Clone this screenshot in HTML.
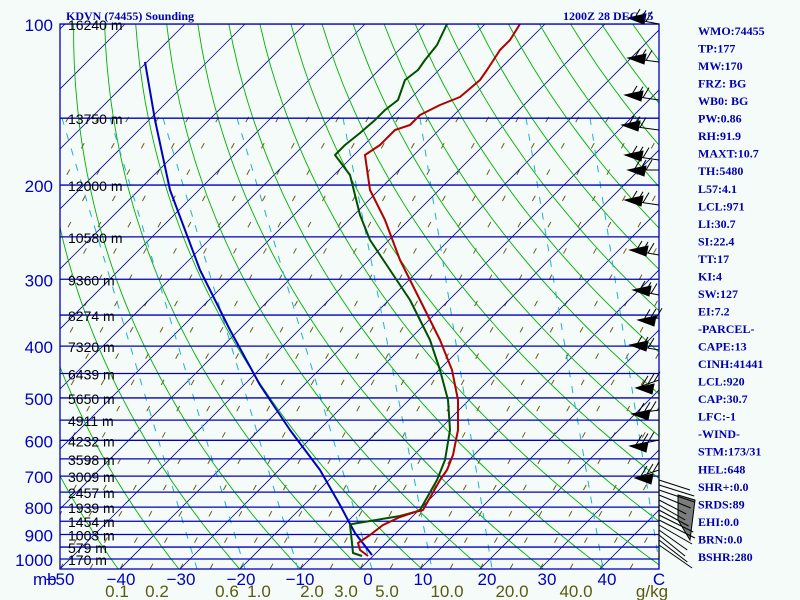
<!DOCTYPE html>
<html><head><meta charset="utf-8"><style>
body{margin:0;background:#f5fbf8;}
svg{display:block}
</style></head><body>
<svg id="s" width="800" height="600" xmlns="http://www.w3.org/2000/svg">
<rect width="800" height="600" fill="#f5fbf8"/>
<defs><clipPath id="c"><rect x="60" y="24" width="599" height="545"/></clipPath></defs>
<g id="grid" clip-path="url(#c)"></g>
<g id="prof" clip-path="url(#c)" fill="none" stroke-linejoin="round"></g>
<rect x="60" y="24" width="599" height="545" fill="none" stroke="#0000c0" stroke-width="1.3"/>
<g id="lab"></g>
<g id="wind" stroke="#000" stroke-width="1" fill="none"></g>
<g font-family="Liberation Serif, serif" font-weight="bold" font-size="12" fill="#0000b0">
<text x="66" y="20">KDVN (74455) Sounding</text>
<text x="563" y="20">1200Z 28 DEC 15</text>
</g>
<g id="side" font-family="Liberation Serif, serif" font-weight="bold" font-size="12" fill="#0000b0"></g>
</svg>
<script>
var NS="http://www.w3.org/2000/svg";
function el(p,t,a,txt){var e=document.createElementNS(NS,t);for(var k in a)e.setAttribute(k,a[k]);if(txt!==undefined)e.textContent=txt;p.appendChild(e);return e;}
function Y(p){return 24+535*Math.log10(p/100);}
function X(T,y){return 360+6*T+(569-y);}
var g=document.getElementById('grid'),lab=document.getElementById('lab');
// brown slashes
for(var x0=-300;x0<=700;x0+=30){el(g,'line',{x1:x0,y1:569,x2:x0+0.55*460,y2:109,stroke:'#6b5b1f','stroke-width':1,'stroke-dasharray':'6 24','stroke-dashoffset':(x0*7)%30});}
// isotherms
for(var T=-160;T<=60;T+=10){el(g,'line',{x1:X(T,569),y1:569,x2:X(T,24),y2:24,stroke:'#0000b0','stroke-width':0.8});}
// dry adiabats
for(var th=190;th<=540;th+=10){var pts=[];for(var p=80;p<=1060;p+=10){var y=Y(p),t=th*Math.pow(p/1000,0.286)-273.15;pts.push(X(t,y).toFixed(1)+','+y.toFixed(1));}
el(g,'polyline',{points:pts.join(' '),fill:'none',stroke:'#00b000','stroke-width':0.9});}
// cyan dashed lines
[[62,197],[110,245],[163,298],[237,372],[343,432],[420,492],[526,603],[590,660]].forEach(function(a){
 el(g,'line',{x1:a[0],y1:118,x2:a[1],y2:569,stroke:'#20b0d0','stroke-width':1,'stroke-dasharray':'7 9'});});
// isobars
var hts={100:'16240',150:'13750',200:'12000',250:'10580',300:'9360',350:'8274',400:'7320',450:'6439',500:'5650',550:'4911',600:'4232',650:'3598',700:'3009',750:'2457',800:'1939',850:'1454',900:'1003',950:'579',1000:'170'};
for(var p in hts){var y=Y(+p);el(g,'line',{x1:60,y1:y,x2:659,y2:y,stroke:'#0000c0','stroke-width':1.3});
 el(lab,'text',{x:68,y:y+6,'font-family':'Liberation Sans, sans-serif','font-size':14,fill:'#000'},hts[p]+' m');
 if(p%100==0)el(lab,'text',{x:53,y:y+7,'text-anchor':'end','font-family':'Liberation Sans, sans-serif','font-size':17,fill:'#0000c0'},p);}
el(lab,'text',{x:33,y:585,'font-family':'Liberation Sans, sans-serif','font-size':17,fill:'#0000c0'},'mb');
[[-50,60],[-40,121],[-30,181],[-20,241],[-10,300],[0,368],[10,423],[20,487],[30,547],[40,607]].forEach(function(a){
 el(lab,'text',{x:a[1],y:585,'text-anchor':'middle','font-family':'Liberation Sans, sans-serif','font-size':17,fill:'#0000c0'},a[0]<0?'\u2212'+(-a[0]):a[0]);});
el(lab,'text',{x:659,y:585,'text-anchor':'middle','font-family':'Liberation Sans, sans-serif','font-size':17,fill:'#0000c0'},'C');
[['0.1',117],['0.2',157],['0.6',227],['1.0',259],['2.0',312],['3.0',346],['5.0',387],['10.0',447],['20.0',512],['40.0',576],['g/kg',652]].forEach(function(a){
 el(lab,'text',{x:a[1],y:597,'text-anchor':'middle','font-family':'Liberation Sans, sans-serif','font-size':17,fill:'#5a5a10'},a[0]);});
var pr=document.getElementById('prof');
el(pr,'polyline',{points:'145,62 155,120 170,190 200,270 230,330 260,385 290,430 320,470 340,505 349,522 355,533 372,555',stroke:'#0000c0','stroke-width':2});
el(pr,'polyline',{points:'447,24 437,45 425,60 418,70 405,80 398,100 385,110 375,120 360,133 345,145 335,155 350,175 355,195 360,215 370,240 390,270 410,300 425,330 430,340 440,370 448,400 450,430 445,460 437,480 420,510 415,512 400,516 352,524 350,525 352,543 353,553 362,556',stroke:'#005000','stroke-width':2});
el(pr,'polyline',{points:'520,24 510,40 500,50 487,70 480,80 460,97 440,105 420,115 410,125 395,130 380,145 365,155 370,190 385,220 400,260 420,300 430,320 440,340 452,370 458,400 458,430 453,455 447,470 440,480 423,510 415,512 400,517 383,525 370,535 358,543 360,550 368,556',stroke:'#b00000','stroke-width':2});
// wind barbs
var w=document.getElementById('wind');
el(w,'line',{x1:659,y1:380,x2:659,y2:560});
var barbs=[[24,628,18],[62,628,58],[100,625,95],[130,622,125],[160,625,155],[170,628,170],[205,625,200],[255,630,250],[295,633,290],[318,638,320],[350,630,345],[380,636,388],[410,632,414],[440,630,446],[470,635,478]];
barbs.forEach(function(b){var y=b[0];el(w,'line',{x1:659,y1:y,x2:b[1],y2:b[2]});
 el(w,'polygon',{points:b[1]+','+b[2]+' '+(b[1]+18)+','+(b[2]-4)+' '+(b[1]+16)+','+(b[2]+6),fill:'#000'});
 for(var i=1;i<4;i++){var fx=b[1]+i*6,fy=b[2]+(y-b[2])*i*6/(659-b[1]);el(w,'line',{x1:fx,y1:fy,x2:fx+6,y2:fy-10});}});
for(var i=0;i<14;i++){var y=480+i*5;el(w,'line',{x1:659,y1:y,x2:690+Math.sin(i)*5,y2:y+10+i});}
el(w,'polygon',{points:'678,495 695,500 690,540 678,520',fill:'#000','fill-opacity':0.5});
var items=['WMO:74455','TP:177','MW:170','FRZ: BG','WB0: BG','PW:0.86','RH:91.9','MAXT:10.7','TH:5480','L57:4.1','LCL:971','LI:30.7','SI:22.4','TT:17','KI:4','SW:127','EI:7.2','-PARCEL-','CAPE:13','CINH:41441','LCL:920','CAP:30.7','LFC:-1','-WIND-','STM:173/31','HEL:648','SHR+:0.0','SRDS:89','EHI:0.0','BRN:0.0','BSHR:280'];
var sd=document.getElementById('side');
items.forEach(function(t,i){el(sd,'text',{x:698,y:35+i*17.53},t);});
</script>
</body></html>
